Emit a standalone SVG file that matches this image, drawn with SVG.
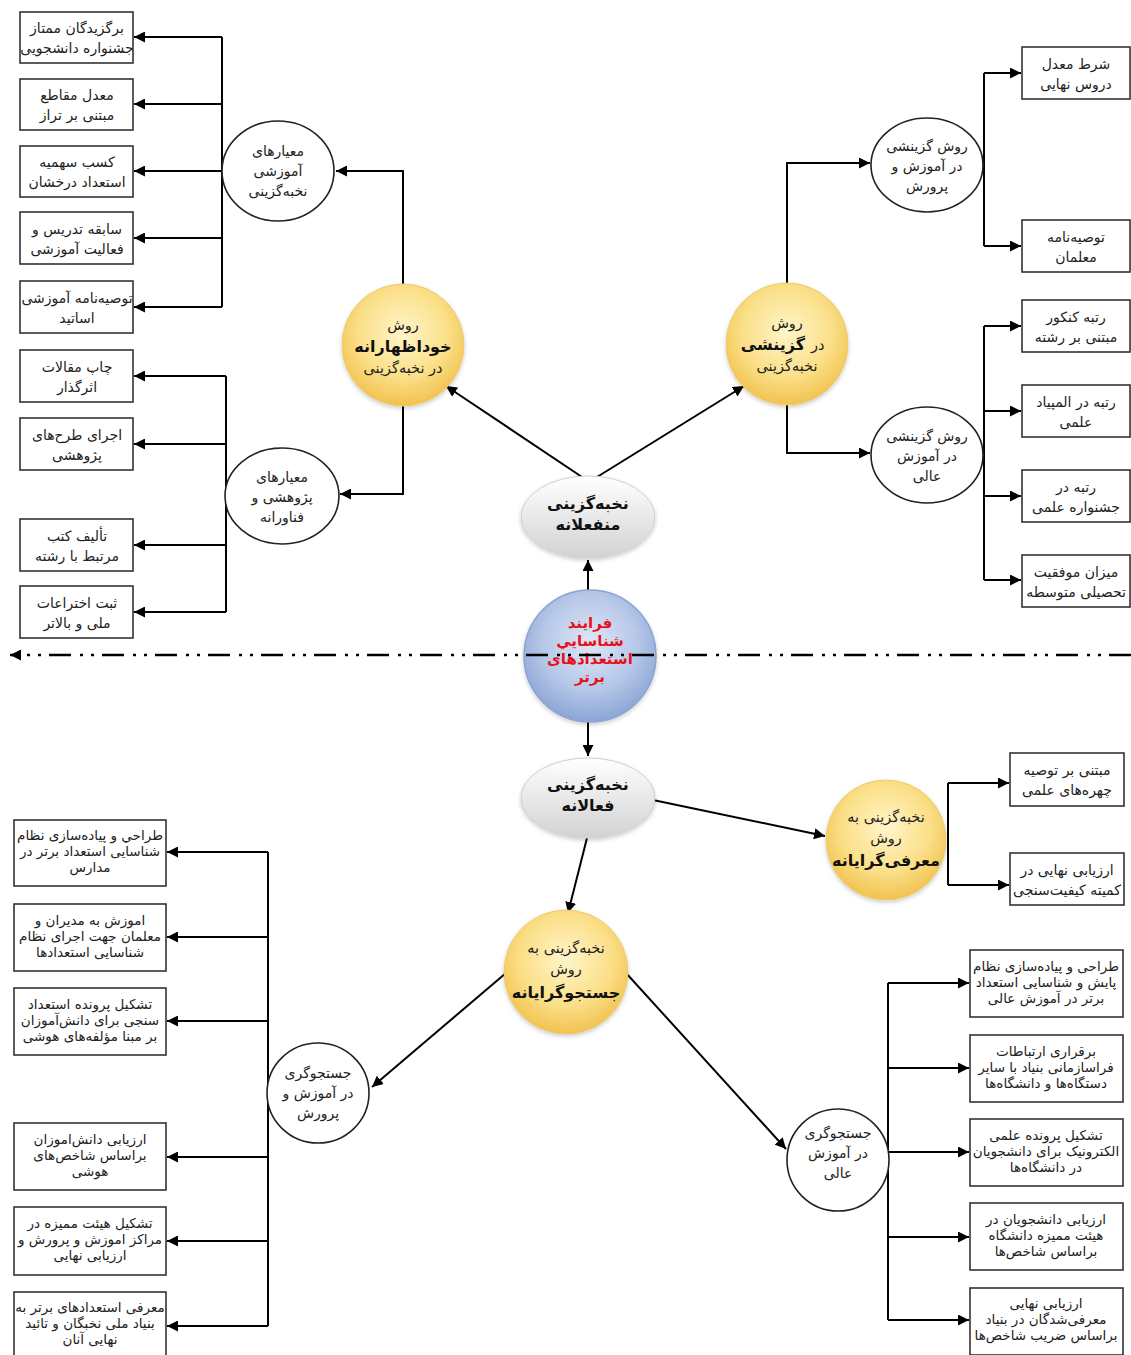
<svg xmlns="http://www.w3.org/2000/svg" width="1131" height="1355" viewBox="0 0 1131 1355">
<style>
.box{fill:#fff;stroke:#333;stroke-width:1.6}
.circ{fill:#fff;stroke:#222;stroke-width:1.6}
.yel{fill:url(#gy);stroke:#eccb6a;stroke-width:1;filter:url(#sh)}
.gry{fill:url(#gg);stroke:#cfcfcf;stroke-width:1;filter:url(#sh)}
.blu{fill:url(#gb);stroke:#8ea4cf;stroke-width:1.5;filter:url(#sh)}
.ln{fill:none;stroke:#000;stroke-width:2}
.t{font-family:"DejaVu Sans",sans-serif;font-size:14px;fill:#222;text-anchor:middle}
.s{font-family:"DejaVu Sans",sans-serif;font-size:13.5px;fill:#222;text-anchor:middle}
.c{font-family:"DejaVu Sans",sans-serif;font-size:14px;fill:#222;text-anchor:middle}
.y{font-family:"DejaVu Sans",sans-serif;font-size:14.5px;fill:#222;text-anchor:middle}
.b{font-family:"DejaVu Sans",sans-serif;font-size:16px;font-weight:bold;fill:#111;text-anchor:middle}
.r{font-family:"DejaVu Sans",sans-serif;font-size:15px;font-weight:bold;fill:#e8101a;text-anchor:middle}
</style>
<defs>
<marker id="ah" viewBox="0 0 10 10" refX="10" refY="5" markerWidth="11" markerHeight="11" markerUnits="userSpaceOnUse" orient="auto"><path d="M0,0 L10,5 L0,10 z" fill="#000"/></marker>
<radialGradient id="gy" cx="50%" cy="40%" r="60%"><stop offset="0" stop-color="#fff5c9"/><stop offset="0.6" stop-color="#fbe08a"/><stop offset="1" stop-color="#f1c24f"/></radialGradient>
<linearGradient id="gg" x1="0" y1="0" x2="0" y2="1"><stop offset="0" stop-color="#ffffff"/><stop offset="1" stop-color="#d2d2d2"/></linearGradient>
<radialGradient id="gb" cx="50%" cy="40%" r="60%"><stop offset="0" stop-color="#dfe7f6"/><stop offset="0.6" stop-color="#b6c7e8"/><stop offset="1" stop-color="#8ba5d5"/></radialGradient>
<filter id="sh" x="-20%" y="-20%" width="140%" height="140%"><feDropShadow dx="0" dy="2" stdDeviation="2" flood-color="#000" flood-opacity="0.2"/></filter>
</defs>

<g id="connectors">
<path class="ln" d="M222,37 V307"/>
<path class="ln" d="M222,37 H134" marker-end="url(#ah)"/>
<path class="ln" d="M222,104 H134" marker-end="url(#ah)"/>
<path class="ln" d="M222,171 H134" marker-end="url(#ah)"/>
<path class="ln" d="M222,238 H134" marker-end="url(#ah)"/>
<path class="ln" d="M222,307 H134" marker-end="url(#ah)"/>
<path class="ln" d="M403,286 V171 H336" marker-end="url(#ah)"/>
<path class="ln" d="M226,376 V612"/>
<path class="ln" d="M226,376 H134" marker-end="url(#ah)"/>
<path class="ln" d="M226,444 H134" marker-end="url(#ah)"/>
<path class="ln" d="M226,545 H134" marker-end="url(#ah)"/>
<path class="ln" d="M226,612 H134" marker-end="url(#ah)"/>
<path class="ln" d="M403,404 V494 H340" marker-end="url(#ah)"/>
<path class="ln" d="M787,284 V163 H870" marker-end="url(#ah)"/>
<path class="ln" d="M984,73 V246"/>
<path class="ln" d="M984,73 H1021" marker-end="url(#ah)"/>
<path class="ln" d="M984,246 H1021" marker-end="url(#ah)"/>
<path class="ln" d="M787,404 V453 H870" marker-end="url(#ah)"/>
<path class="ln" d="M984,326 V580"/>
<path class="ln" d="M984,326 H1021" marker-end="url(#ah)"/>
<path class="ln" d="M984,411 H1021" marker-end="url(#ah)"/>
<path class="ln" d="M984,496 H1021" marker-end="url(#ah)"/>
<path class="ln" d="M984,580 H1021" marker-end="url(#ah)"/>
<path class="ln" d="M582,477 L446,386" marker-end="url(#ah)"/>
<path class="ln" d="M597,477 L744,386" marker-end="url(#ah)"/>
<path class="ln" d="M588,590 V560" marker-end="url(#ah)"/>
<path class="ln" d="M588,722 V756" marker-end="url(#ah)"/>
<path class="ln" d="M653,800 L825,836" marker-end="url(#ah)"/>
<path class="ln" d="M587,838 L568,913" marker-end="url(#ah)"/>
<path class="ln" d="M948,783 V885"/>
<path class="ln" d="M948,783 H1009" marker-end="url(#ah)"/>
<path class="ln" d="M948,885 H1009" marker-end="url(#ah)"/>
<path class="ln" d="M506,973 L372,1087" marker-end="url(#ah)"/>
<path class="ln" d="M626,973 L786,1149" marker-end="url(#ah)"/>
<path class="ln" d="M268,852 V1326"/>
<path class="ln" d="M268,852 H167" marker-end="url(#ah)"/>
<path class="ln" d="M268,937 H167" marker-end="url(#ah)"/>
<path class="ln" d="M268,1021 H167" marker-end="url(#ah)"/>
<path class="ln" d="M268,1157 H167" marker-end="url(#ah)"/>
<path class="ln" d="M268,1241 H167" marker-end="url(#ah)"/>
<path class="ln" d="M268,1326 H167" marker-end="url(#ah)"/>
<path class="ln" d="M888,983 V1320"/>
<path class="ln" d="M888,983 H969" marker-end="url(#ah)"/>
<path class="ln" d="M888,1068 H969" marker-end="url(#ah)"/>
<path class="ln" d="M888,1152 H969" marker-end="url(#ah)"/>
<path class="ln" d="M888,1237 H969" marker-end="url(#ah)"/>
<path class="ln" d="M888,1320 H969" marker-end="url(#ah)"/>
</g>

<g id="tl-b1"><rect class="box" x="20" y="12" width="113" height="51"/><text class="t" direction="rtl" x="77" y="33">برگزیدگان ممتاز</text><text class="t" direction="rtl" x="77" y="53">جشنواره دانشجویی</text></g>
<g id="tl-b2"><rect class="box" x="20" y="79" width="113" height="51"/><text class="t" direction="rtl" x="77" y="100">معدل مقاطع</text><text class="t" direction="rtl" x="77" y="120">مبتنی بر تراز</text></g>
<g id="tl-b3"><rect class="box" x="20" y="146" width="113" height="51"/><text class="t" direction="rtl" x="77" y="167">کسب سهمیه</text><text class="t" direction="rtl" x="77" y="187">استعداد درخشان</text></g>
<g id="tl-b4"><rect class="box" x="20" y="212" width="113" height="52"/><text class="t" direction="rtl" x="77" y="234">سابقه تدریس و</text><text class="t" direction="rtl" x="77" y="254">فعالیت آموزشی</text></g>
<g id="tl-b5"><rect class="box" x="20" y="281" width="113" height="52"/><text class="t" direction="rtl" x="77" y="303">توصیه‌نامه آموزشی</text><text class="t" direction="rtl" x="77" y="323">اساتید</text></g>
<g id="tl-c1"><ellipse class="circ" cx="278" cy="171" rx="56" ry="50"/><text class="c" direction="rtl" x="278" y="156">معیارهای</text><text class="c" direction="rtl" x="278" y="176">آموزشی</text><text class="c" direction="rtl" x="278" y="196">نخبه‌گزینی</text></g>
<g id="tl-c2"><ellipse class="circ" cx="282" cy="496" rx="57" ry="48"/><text class="c" direction="rtl" x="282" y="482">معیارهای</text><text class="c" direction="rtl" x="282" y="502">پژوهشی و</text><text class="c" direction="rtl" x="282" y="522">فناورانه</text></g>
<g id="tl-b6"><rect class="box" x="20" y="350" width="113" height="52"/><text class="t" direction="rtl" x="77" y="372">چاپ مقالات</text><text class="t" direction="rtl" x="77" y="392">اثرگذار</text></g>
<g id="tl-b7"><rect class="box" x="20" y="418" width="113" height="52"/><text class="t" direction="rtl" x="77" y="440">اجرای طرح‌های</text><text class="t" direction="rtl" x="77" y="460">پژوهشی</text></g>
<g id="tl-b8"><rect class="box" x="20" y="519" width="113" height="52"/><text class="t" direction="rtl" x="77" y="541">تألیف کتب</text><text class="t" direction="rtl" x="77" y="561">مرتبط با رشته</text></g>
<g id="tl-b9"><rect class="box" x="20" y="586" width="113" height="52"/><text class="t" direction="rtl" x="77" y="608">ثبت اختراعات</text><text class="t" direction="rtl" x="77" y="628">ملی و بالاتر</text></g>
<g id="y-khod"><circle class="yel" cx="403" cy="345" r="61"/><text class="y" direction="rtl" x="403" y="330">روش</text><text class="b" direction="rtl" x="403" y="352">خوداظهارانه</text><text class="y" direction="rtl" x="403" y="373">در نخبه‌گزینی</text></g>

<g id="y-gozin"><circle class="yel" cx="787" cy="344" r="61"/><text class="y" direction="rtl" x="787" y="328">روش</text><text class="b" style="text-anchor:end" x="805" y="350">گزینشی</text><text class="y" style="text-anchor:start" x="811" y="350">در</text><text class="y" direction="rtl" x="787" y="371">نخبه‌گزینی</text></g>
<g id="tr-c1"><ellipse class="circ" cx="927" cy="165" rx="56" ry="47"/><text class="c" direction="rtl" x="927" y="151">روش گزینشی</text><text class="c" direction="rtl" x="927" y="171">در آموزش و</text><text class="c" direction="rtl" x="927" y="191">پرورش</text></g>
<g id="tr-b1"><rect class="box" x="1022" y="47" width="108" height="52"/><text class="t" direction="rtl" x="1076" y="69">شرط معدل</text><text class="t" direction="rtl" x="1076" y="89">دروس نهایی</text></g>
<g id="tr-b2"><rect class="box" x="1022" y="220" width="108" height="52"/><text class="t" direction="rtl" x="1076" y="242">توصیه‌نامه</text><text class="t" direction="rtl" x="1076" y="262">معلمان</text></g>
<g id="tr-c2"><ellipse class="circ" cx="927" cy="455" rx="56" ry="48"/><text class="c" direction="rtl" x="927" y="441">روش گزینشی</text><text class="c" direction="rtl" x="927" y="461">در آموزش</text><text class="c" direction="rtl" x="927" y="481">عالی</text></g>
<g id="tr-b3"><rect class="box" x="1022" y="300" width="108" height="52"/><text class="t" direction="rtl" x="1076" y="322">رتبه کنکور</text><text class="t" direction="rtl" x="1076" y="342">مبتنی بر رشته</text></g>
<g id="tr-b4"><rect class="box" x="1022" y="385" width="108" height="52"/><text class="t" direction="rtl" x="1076" y="407">رتبه در المپیاد</text><text class="t" direction="rtl" x="1076" y="427">علمی</text></g>
<g id="tr-b5"><rect class="box" x="1022" y="470" width="108" height="52"/><text class="t" direction="rtl" x="1076" y="492">رتبه در</text><text class="t" direction="rtl" x="1076" y="512">جشنواره علمی</text></g>
<g id="tr-b6"><rect class="box" x="1022" y="555" width="108" height="52"/><text class="t" direction="rtl" x="1076" y="577">میزان موفقیت</text><text class="t" direction="rtl" x="1076" y="597">تحصیلی متوسطه</text></g>

<g id="g-monf"><ellipse class="gry" cx="588" cy="517" rx="67" ry="41"/><text class="b" font-size="14.5px" direction="rtl" x="588" y="509">نخبه‌گزینی</text><text class="b" font-size="14.5px" direction="rtl" x="588" y="530">منفعلانه</text></g>
<g id="b-main"><circle class="blu" cx="590" cy="656" r="66"/><text class="r" direction="rtl" x="590" y="628">فرایند</text><text class="r" direction="rtl" x="590" y="646">شناسايي</text><text class="r" direction="rtl" x="590" y="664">استعدادهای</text><text class="r" direction="rtl" x="590" y="682">برتر</text></g>
<g id="g-faal"><ellipse class="gry" cx="588" cy="798" rx="67" ry="40"/><text class="b" font-size="14.5px" direction="rtl" x="588" y="790">نخبه‌گزینی</text><text class="b" font-size="14.5px" direction="rtl" x="588" y="811">فعالانه</text></g>

<g id="y-moarefi"><circle class="yel" cx="886" cy="840" r="60"/><text class="y" direction="rtl" x="886" y="822">نخبه‌گزینی به</text><text class="y" direction="rtl" x="886" y="843">روش</text><text class="b" font-size="17px" direction="rtl" x="886" y="866">معرفی‌گرایانه</text></g>
<g id="mr-b1"><rect class="box" x="1010" y="753" width="114" height="53"/><text class="t" direction="rtl" x="1067" y="775">مبتنی بر توصیه</text><text class="t" direction="rtl" x="1067" y="795">چهره‌های علمی</text></g>
<g id="mr-b2"><rect class="box" x="1010" y="853" width="114" height="52"/><text class="t" direction="rtl" x="1067" y="875">ارزیابی نهایی در</text><text class="t" direction="rtl" x="1067" y="895">کمیته کیفیت‌سنجی</text></g>

<g id="y-jost"><circle class="yel" cx="566" cy="972" r="62"/><text class="y" direction="rtl" x="566" y="953">نخبه‌گزینی به</text><text class="y" direction="rtl" x="566" y="974">روش</text><text class="b" font-size="17px" direction="rtl" x="566" y="998">جستجوگرایانه</text></g>
<g id="jl-c"><ellipse class="circ" cx="318" cy="1093" rx="51" ry="50"/><text class="c" direction="rtl" x="318" y="1078">جستجوگری</text><text class="c" direction="rtl" x="318" y="1098">در آموزش و</text><text class="c" direction="rtl" x="318" y="1118">پرورش</text></g>
<g id="jl-b1"><rect class="box" x="14" y="820" width="152" height="66"/><text class="s" direction="rtl" x="90" y="840">طراحي و پیاده‌سازی نظام</text><text class="s" direction="rtl" x="90" y="856">شناسایی استعداد برتر در</text><text class="s" direction="rtl" x="90" y="872">مدارس</text></g>
<g id="jl-b2"><rect class="box" x="14" y="904" width="152" height="67"/><text class="s" direction="rtl" x="90" y="925">اموزش به مدیران و</text><text class="s" direction="rtl" x="90" y="941">معلمان جهت اجرای نظام</text><text class="s" direction="rtl" x="90" y="957">شناسایی استعدادها</text></g>
<g id="jl-b3"><rect class="box" x="14" y="988" width="152" height="67"/><text class="s" direction="rtl" x="90" y="1009">تشکیل پرونده استعداد</text><text class="s" direction="rtl" x="90" y="1025">سنجی برای دانش‌آموزان</text><text class="s" direction="rtl" x="90" y="1041">بر مبنا مؤلفه‌های هوشی</text></g>
<g id="jl-b4"><rect class="box" x="14" y="1123" width="152" height="67"/><text class="s" direction="rtl" x="90" y="1144">ارزیابی دانش‌اموزان</text><text class="s" direction="rtl" x="90" y="1160">براساس شاخص‌های</text><text class="s" direction="rtl" x="90" y="1176">هوشی</text></g>
<g id="jl-b5"><rect class="box" x="14" y="1207" width="152" height="68"/><text class="s" direction="rtl" x="90" y="1228">تشکیل هیئت ممیزه در</text><text class="s" direction="rtl" x="90" y="1244">مراکز اموزش و پرورش و</text><text class="s" direction="rtl" x="90" y="1260">ارزیابی نهایی</text></g>
<g id="jl-b6"><rect class="box" x="14" y="1292" width="152" height="66"/><text class="s" direction="rtl" x="90" y="1312">معرفی استعدادهای برتر به</text><text class="s" direction="rtl" x="90" y="1328">بنیاد ملی نخبگان و تائید</text><text class="s" direction="rtl" x="90" y="1344">نهایی آنان</text></g>
<g id="jr-c"><ellipse class="circ" cx="838" cy="1160" rx="51" ry="51"/><text class="c" direction="rtl" x="838" y="1138">جستجوگری</text><text class="c" direction="rtl" x="838" y="1158">در آموزش</text><text class="c" direction="rtl" x="838" y="1178">عالی</text></g>
<g id="jr-b1"><rect class="box" x="970" y="950" width="153" height="67"/><text class="s" direction="rtl" x="1046" y="971">طراحی و پیاده‌سازی نظام</text><text class="s" direction="rtl" x="1046" y="987">پایش و شناسایی استعداد</text><text class="s" direction="rtl" x="1046" y="1003">برتر در آموزش عالی</text></g>
<g id="jr-b2"><rect class="box" x="970" y="1035" width="153" height="67"/><text class="s" direction="rtl" x="1046" y="1056">برقراری ارتباطات</text><text class="s" direction="rtl" x="1046" y="1072">فراسازمانی بنیاد با سایر</text><text class="s" direction="rtl" x="1046" y="1088">دستگاه‌ها و دانشگاه‌ها</text></g>
<g id="jr-b3"><rect class="box" x="970" y="1119" width="153" height="67"/><text class="s" direction="rtl" x="1046" y="1140">تشکیل پرونده علمی</text><text class="s" direction="rtl" x="1046" y="1156">الکترونیک برای دانشجویان</text><text class="s" direction="rtl" x="1046" y="1172">در دانشگاه‌ها</text></g>
<g id="jr-b4"><rect class="box" x="970" y="1203" width="153" height="67"/><text class="s" direction="rtl" x="1046" y="1224">ارزیابی دانشجویان در</text><text class="s" direction="rtl" x="1046" y="1240">هیئت ممیزه دانشگاه</text><text class="s" direction="rtl" x="1046" y="1256">براساس شاخص‌ها</text></g>
<g id="jr-b5"><rect class="box" x="970" y="1288" width="153" height="67"/><text class="s" direction="rtl" x="1046" y="1308">ارزیابی نهایی</text><text class="s" direction="rtl" x="1046" y="1324">معرفی‌شدگان در بنیاد</text><text class="s" direction="rtl" x="1046" y="1340">براساس ضریب شاخص‌ها</text></g>

<g id="divider">
<path d="M1131,655 H10" fill="none" stroke="#000" stroke-width="2.5" stroke-dasharray="22 8 3 8 3 9" marker-end="url(#ah)"/>
</g>
</svg>
